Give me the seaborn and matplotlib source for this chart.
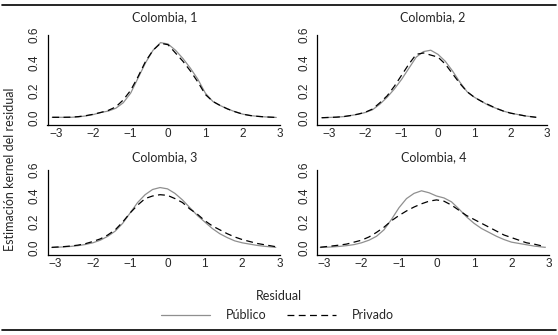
import numpy as np
import pandas as pd
import matplotlib
matplotlib.use('Agg')
import matplotlib.pyplot as plt
from matplotlib.lines import Line2D
import seaborn as sns

# residual grid (panel 2 has a slightly different support)
x_res = [-3.1, -2.8, -2.6, -2.4, -2.2, -2.0, -1.8, -1.6, -1.4, -1.2, -1.0, -0.8, -0.6, -0.4, -0.2,
         0.0, 0.2, 0.4, 0.6, 0.8, 1.0, 1.2, 1.4, 1.6, 1.8, 2.0, 2.2, 2.4, 2.6, 2.9]
x_res2 = [-3.2, -2.8, -2.6, -2.4, -2.2, -2.0, -1.8, -1.6, -1.4, -1.2, -1.0, -0.8, -0.6, -0.4, -0.2,
          0.0, 0.2, 0.4, 0.6, 0.8, 1.0, 1.2, 1.4, 1.6, 1.8, 2.0, 2.2, 2.4, 2.7]

pub1 = [0.005, 0.005, 0.005, 0.008, 0.015, 0.025, 0.04, 0.05, 0.07, 0.11, 0.18, 0.29, 0.40, 0.49, 0.545,
        0.535, 0.49, 0.43, 0.36, 0.28, 0.18, 0.12, 0.09, 0.065, 0.045, 0.028, 0.018, 0.012, 0.008, 0.004]
priv1 = [0.005, 0.005, 0.006, 0.01, 0.017, 0.027, 0.04, 0.055, 0.08, 0.13, 0.20, 0.30, 0.41, 0.49, 0.54,
         0.53, 0.47, 0.41, 0.34, 0.26, 0.17, 0.12, 0.09, 0.065, 0.045, 0.028, 0.018, 0.012, 0.008, 0.004]

pub2 = [0.002, 0.006, 0.01, 0.018, 0.027, 0.04, 0.06, 0.10, 0.15, 0.21, 0.28, 0.36, 0.44, 0.48, 0.49,
        0.46, 0.41, 0.34, 0.26, 0.19, 0.15, 0.12, 0.09, 0.07, 0.05, 0.035, 0.025, 0.015, 0.005]
priv2 = [0.002, 0.006, 0.01, 0.018, 0.028, 0.042, 0.065, 0.11, 0.16, 0.23, 0.31, 0.39, 0.46, 0.47, 0.455,
         0.44, 0.39, 0.32, 0.25, 0.19, 0.15, 0.12, 0.095, 0.07, 0.05, 0.035, 0.025, 0.015, 0.005]

pub3 = [0.004, 0.008, 0.012, 0.018, 0.027, 0.04, 0.06, 0.09, 0.13, 0.19, 0.27, 0.35, 0.41, 0.45, 0.465,
        0.455, 0.42, 0.37, 0.31, 0.25, 0.20, 0.15, 0.11, 0.08, 0.055, 0.04, 0.03, 0.02, 0.013, 0.005]
priv3 = [0.005, 0.01, 0.015, 0.022, 0.033, 0.05, 0.07, 0.10, 0.14, 0.20, 0.27, 0.33, 0.38, 0.40, 0.41,
         0.405, 0.38, 0.35, 0.30, 0.26, 0.21, 0.17, 0.14, 0.11, 0.085, 0.065, 0.05, 0.035, 0.025, 0.01]

pub4 = [0.004, 0.008, 0.012, 0.018, 0.026, 0.04, 0.06, 0.09, 0.14, 0.22, 0.31, 0.38, 0.42, 0.44, 0.425,
        0.40, 0.385, 0.355, 0.30, 0.24, 0.19, 0.15, 0.12, 0.09, 0.065, 0.045, 0.035, 0.025, 0.015, 0.005]
priv4 = [0.006, 0.015, 0.022, 0.03, 0.045, 0.06, 0.085, 0.12, 0.16, 0.21, 0.25, 0.285, 0.315, 0.34, 0.36,
         0.37, 0.36, 0.33, 0.29, 0.25, 0.22, 0.19, 0.16, 0.13, 0.10, 0.08, 0.06, 0.04, 0.03, 0.01]

titles = ['Colombia, 1', 'Colombia, 2', 'Colombia, 3', 'Colombia, 4']
x_ticks = [-3, -2, -1, 0, 1, 2, 3]
y_ticks = [0.0, 0.2, 0.4, 0.6]
y_ticklabels = ['0.0', '0.2', '0.4', '0.6']

panels = [(x_res, pub1, priv1), (x_res2, pub2, priv2), (x_res, pub3, priv3), (x_res, pub4, priv4)]

W, H = 558, 335

sns.set_style('white')
plt.rcParams['font.family'] = ['Lato', 'DejaVu Sans']

fig = plt.figure(figsize=(W / 100, H / 100), dpi=100)

# pixel layout per panel: y-axis x, x of -3, x of 3, x-axis y, y of 0.0, y of 0.6, title baseline
layout = [(47.5, 56, 280, 125, 118, 35, 21.5),
          (317, 329, 547, 125, 118, 35, 21.5),
          (47.5, 55.5, 279.5, 255, 248, 170, 161.5),
          (317, 324, 549, 255, 248, 170, 161.5)]

pal = {'Público': '#8f8f8f', 'Privado': 'black'}
dash = {'Público': '', 'Privado': (5.5, 3.5)}

for i, (xs, pub, priv) in enumerate(panels):
    l, xa, xb, yb, y0, y6, tb = layout[i]
    sx = (xb - xa) / 6
    sy = (y0 - y6) / 0.6
    r = xb + 2
    t = y6 - 2
    ax = fig.add_axes([l / W, 1 - yb / H, (r - l) / W, (yb - t) / H])
    df = pd.DataFrame({'residual': xs * 2,
                       'densidad': pub + priv,
                       'sector': ['Público'] * len(xs) + ['Privado'] * len(xs)})
    sns.lineplot(data=df, x='residual', y='densidad', hue='sector', style='sector',
                 palette=pal, dashes=dash, legend=False, ax=ax, linewidth=0.9)
    x_lo = -3 - (xa - l) / sx
    y_lo = -(yb - y0) / sy
    ax.set_xlim(x_lo, 3 + (r - xb) / sx)
    ax.set_ylim(y_lo, 0.6 + (y6 - t) / sy)
    ax.set_xlabel('')
    ax.set_ylabel('')
    ax.set_xticks(x_ticks)
    ax.set_xticklabels(['\u2212' + str(-v) if v < 0 else str(v) for v in x_ticks],
                       family='Liberation Sans', fontsize=8.5)
    ax.set_yticks(y_ticks)
    ax.set_yticklabels(y_ticklabels, rotation=90, va='center',
                       family='Liberation Sans', fontsize=8.5)
    ax.tick_params(direction='in', length=3.8, width=0.8, color='black')
    ax.tick_params(axis='x', pad=2)
    ax.tick_params(axis='y', pad=5)
    sns.despine(ax=ax)
    for s in ['left', 'bottom']:
        ax.spines[s].set_color('black')
        ax.spines[s].set_linewidth(0.9)
    ax.spines['left'].set_bounds(y_lo, 0.6)
    ax.spines['bottom'].set_bounds(x_lo, 3)
    ax.patch.set_alpha(0)
    fig.text((l + r) / 2 / W, 1 - tb / H, titles[i], ha='center', va='baseline', fontsize=9)

fig.text(278.5 / W, 1 - 300 / H, 'Residual', ha='center', va='baseline', fontsize=9)
fig.text(10 / W, 1 - 169 / H, 'Estimación kernel del residual', rotation=90,
         ha='center', va='center', fontsize=9)

handles = [Line2D([], [], color=pal['Público'], lw=0.9),
           Line2D([], [], color=pal['Privado'], lw=0.9, dashes=dash['Privado'])]
fig.legend(handles, ['Público', 'Privado'], loc='center', bbox_to_anchor=(277.5 / W, 1 - 315 / H),
           ncol=2, frameon=False, fontsize=9, handlelength=3.9, handletextpad=1.3, columnspacing=1.6)

for yy in [5, 330]:
    fig.add_artist(Line2D([0.003, 0.997], [1 - yy / H] * 2, color='black', lw=1.2,
                          transform=fig.transFigure))

fig.savefig('out.png', dpi=100)
